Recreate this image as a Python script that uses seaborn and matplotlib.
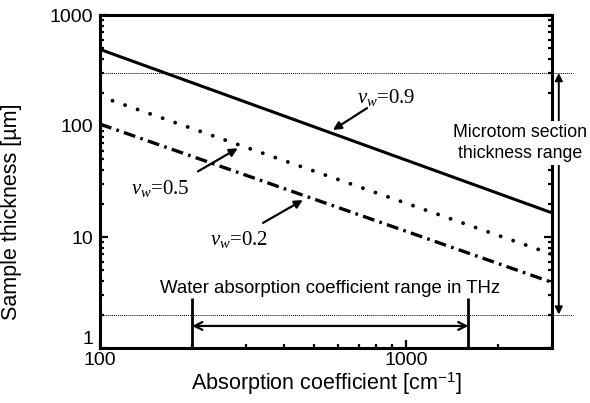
import matplotlib
matplotlib.use("Agg")
import matplotlib.pyplot as plt
import seaborn as sns
import pandas as pd

# Absorption coefficient end points of each curve (cm^-1)
alpha = [100, 3000]
# Maximum sample thickness (um) for each water volume fraction
thick_09 = [490, 16.5]
thick_05 = [185, 7.0]
thick_02 = [104, 3.9]

# Ranges marked on the chart
water_alpha_range = [200, 1600]
microtome_range = [2, 300]

sns.set_style("ticks")
plt.rcParams["font.family"] = ["Liberation Sans", "DejaVu Sans"]
plt.rcParams["mathtext.fontset"] = "custom"
plt.rcParams["mathtext.rm"] = "Liberation Sans"
plt.rcParams["mathtext.it"] = "Liberation Serif:italic"
for key in ("text.color", "axes.labelcolor", "xtick.color", "ytick.color", "axes.edgecolor"):
    plt.rcParams[key] = "black"

fig = plt.figure(figsize=(5.9, 4.03), dpi=100)
ax = fig.add_axes([100 / 590, 1 - 348 / 403, 452 / 590, 333 / 403])

df = pd.DataFrame({
    "alpha": alpha * 3,
    "thickness": thick_09 + thick_05 + thick_02,
    "vw": ["0.9"] * 2 + ["0.5"] * 2 + ["0.2"] * 2,
})

styles = {
    "0.9": dict(linestyle="-", linewidth=2.2),
    "0.5": dict(linestyle=(0, (0.01, 3.4)), linewidth=2.8, dash_capstyle="round"),
    "0.2": dict(linestyle=(0, (3.6, 1.6, 0.8, 1.6)), linewidth=2.4),
}
for key, kw in styles.items():
    sns.lineplot(data=df[df["vw"] == key], x="alpha", y="thickness",
                 color="black", ax=ax, legend=False, **kw)

ax.set_xscale("log")
ax.set_yscale("log")
ax.set_xlim(100, 3000)
ax.set_ylim(1, 1000)
ax.set_xticks([100, 1000])
ax.set_xticklabels(["100", "1000"])
ax.set_yticks([1, 10, 100, 1000])
ax.set_yticklabels(["1", "10", "100", "1000"])
# lift the bottom y label so it sits clear of the x tick label below it
ax.get_yticklabels()[0].set_verticalalignment("bottom")

for s in ax.spines.values():
    s.set_linewidth(2.2)
    s.set_visible(True)
ax.tick_params(which="both", direction="in", top=False, right=True,
               labelsize=14, width=1.6, colors="black")
ax.tick_params(which="major", length=6)
ax.tick_params(axis="y", which="major", pad=5)
ax.tick_params(axis="x", which="major", pad=3)
ax.tick_params(which="minor", length=3)

ax.set_xlabel("Absorption coefficient [cm$^{\\mathrm{-1}}$]", fontsize=15.5, labelpad=1)
ax.set_ylabel("Sample thickness [\u00b5m]", fontsize=15.5)
ax.yaxis.set_label_coords(-0.173, 0.41)

# Microtome section thickness limits (thin dotted lines running past the frame)
for yv in microtome_range:
    ax.axhline(yv, xmin=0, xmax=1.046, color="black", linestyle=(0, (1, 1)),
               linewidth=0.7, clip_on=False, zorder=1)

# Water absorption coefficient range in THz
ax.vlines(water_alpha_range, 1, 2.8, color="black", linewidth=2.0)
ax.annotate("", xy=(water_alpha_range[0], 1.58), xytext=(water_alpha_range[1], 1.58),
            arrowprops=dict(arrowstyle="<->", color="black", lw=1.6,
                            shrinkA=0, shrinkB=0, mutation_scale=14))
ax.text(565, 3.45, "Water absorption coefficient range in THz",
        ha="center", va="center", fontsize=13.4)

# Microtome range double arrow outside the right spine
blend = ("axes fraction", "data")
ax.annotate("", xy=(1.015, microtome_range[1]), xytext=(1.015, microtome_range[0]),
            xycoords=blend, textcoords=blend,
            arrowprops=dict(arrowstyle="<|-|>", color="black", lw=1.4,
                            shrinkA=0, shrinkB=0, mutation_scale=11), zorder=2)
ax.text(0.929, 70, "Microtom section\nthickness range", transform=ax.get_yaxis_transform(),
        ha="center", va="center", fontsize=12.8, linespacing=1.35, zorder=5,
        bbox=dict(facecolor="white", edgecolor="none", pad=2))

# Curve labels
arrow_kw = dict(arrowprops=dict(arrowstyle="-|>", color="black", lw=1.6,
                                shrinkA=0, shrinkB=0, mutation_scale=12))
text_kw = dict(ha="center", va="center", fontsize=15, family="Liberation Serif")
ax.annotate("", xy=(577, 92), xytext=(746, 145), **arrow_kw)
ax.text(861, 182, "$v_w$=0.9", **text_kw)
ax.annotate("", xy=(282, 63), xytext=(209, 39), **arrow_kw)
ax.text(157, 27.6, "$v_w$=0.5", **text_kw)
ax.annotate("", xy=(460, 21.5), xytext=(341, 13.4), **arrow_kw)
ax.text(285, 9.4, "$v_w$=0.2", **text_kw)

fig.savefig("out.png", dpi=100)
